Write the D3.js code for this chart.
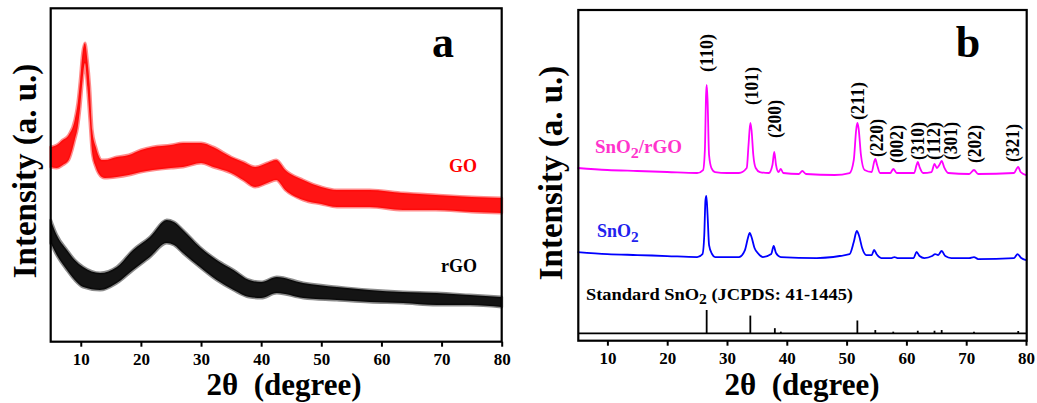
<!DOCTYPE html>
<html><head><meta charset="utf-8">
<script src="https://cdn.jsdelivr.net/npm/d3@7"></script>
<style>
html,body{margin:0;padding:0;background:#fff;}
svg text{font-family:"Liberation Serif","Times New Roman",serif;font-weight:bold;}
</style></head>
<body><svg id="chart" width="1037" height="403"></svg>
<script>
// ---------------- DATA ----------------
const xTicks = [10, 20, 30, 40, 50, 60, 70, 80];

// Panel a: GO (noisy band, upper/lower envelope of the trace, a.u.)
const goTheta = [5,6,7,8,9,9.5,9.9,10.3,10.7,11.1,11.5,11.9,12.5,13.5,14,16,18,20,22,25,27,30,32,35,37,39,41,42.5,44,47,50,52.6,58,63.6,69,75,80];
const goUpper = [584,590,605,620,665,716,785,866,896,845,764,635,584,545,545,554,560,575,584,590,596,596,584,554,539,524,536,545,515,485,464,455,455,446,440,434,431];
const goLower = [524,521,530,545,605,644,704,785,836,764,665,566,524,494,491,494,500,509,515,521,524,536,524,506,485,464,476,485,455,425,413,404,404,395,395,389,386];

// Panel a: rGO
const rgoTheta = [5,6,7.7,9,10.4,13.2,16,18.7,21.5,24.3,25.5,27,29.8,32.6,35.4,38,40,42.6,47,52.6,58,63.6,69.2,74.7,80];
const rgoUpper = [365,320,275,245,224,206,224,275,314,365,359,335,284,245,215,185,179,194,176,164,155,149,146,140,134];
const rgoLower = [296,260,215,185,164,155,176,215,254,296,290,266,224,185,155,134,131,146,131,125,119,116,110,110,104];

// Panel b: SnO2/rGO
const snrTheta = [5,10,15,20,25,26.0,26.3,26.5,26.6,26.75,27.0,27.4,28,30,32,33.3,33.6,33.9,34.1,34.4,34.8,35.5,37.0,37.6,37.9,38.2,38.6,39.0,39.4,42.0,42.6,43.2,48,50.5,51.2,51.6,51.8,52.0,52.4,53,54.2,54.6,54.8,55.1,55.6,57.3,57.8,58.4,61.3,61.7,61.9,62.2,62.8,64.2,64.7,65.1,65.5,65.9,66.3,67,70.5,71.3,72,78,78.5,78.7,79.1,80];
const snrI = [518,512,509,506,503,512,572,737,767,722,557,518,506,503,503,518,587,653,632,557,518,506,503,527,566,527,506,515,503,500,509,500,497,503,542,632,653,638,557,512,506,536,545,527,503,503,515,503,503,527,536,521,503,506,530,518,527,539,521,503,500,512,500,503,518,521,506,497];

// Panel b: SnO2
const snTheta = [5,10,15,20,25,25.9,26.2,26.4,26.55,26.75,27.0,27.5,28,32,33.0,33.5,33.8,34.1,34.6,35.3,36,37.4,37.8,38.2,39,45,50.5,51.2,51.7,52.1,52.6,53.3,54.2,54.6,55.0,55.8,57.5,58.0,58.5,61.2,61.7,62.2,63,64.3,64.8,65.3,65.9,66.5,67.5,70.5,71.3,72,78,78.6,79.2,80];
const snI = [266,260,257,254,251,260,317,422,434,377,287,260,251,251,272,308,323,311,278,260,251,260,284,263,251,248,260,296,329,314,278,257,257,272,260,248,248,251,248,248,266,254,248,254,260,257,269,254,248,248,251,245,248,260,248,242];

// Panel b: standard SnO2 (JCPDS 41-1445) stick pattern, relative intensity
const stdTheta = [26.6,33.9,38.0,39.0,51.8,54.8,57.8,61.9,64.7,65.9,71.3,78.7];
const stdI = [100,76,22,7,55,14,7,11,11,14,7,10];

// Panel b: Miller index annotations (label 2θ, label base level in a.u.)
const hklText = ["(110)","(101)","(200)","(211)","(220)","(002)","(310)","(112)","(301)","(202)","(321)"];
const hklTheta = [26.6,34.13,38.03,51.9,55.03,58.38,61.94,64.62,67.41,71.47,77.83];
const hklLevel = [806,707,608,662,551,533,542,542,542,533,536];

// ---------------- DRAW ----------------
const svg = d3.select("#chart");

function panel(cfg){
  const g = svg.append("g");
  const x = d3.scaleLinear().domain([5,80]).range([cfg.left, cfg.right]);
  const y = d3.scaleLinear().domain([0,cfg.ymax]).range([cfg.bottom, cfg.top]);
  const axis = d3.axisBottom(x).tickValues(xTicks).tickSize(5).tickSizeOuter(0).tickFormat(d3.format("d"));
  const ax = g.append("g").attr("transform",`translate(0,${cfg.bottom})`).call(axis);
  ax.select(".domain").remove();
  ax.selectAll(".tick line").attr("stroke","#000").attr("stroke-width",2);
  ax.selectAll(".tick text").attr("font-size",17).attr("fill","#000").attr("y",11)
    .attr("font-family","Liberation Serif").attr("font-weight","bold");
  // x title
  g.append("text").attr("x",cfg.xTitleX).attr("y",395).attr("text-anchor","middle")
    .attr("font-size",31).attr("fill","#000").text("2θ\u00A0 (degree)");
  // y title
  g.append("text").attr("transform",`translate(${cfg.yTitleX},${cfg.yTitleY}) rotate(-90)`)
    .attr("text-anchor","middle").attr("font-size",33).attr("fill","#000").text("Intensity (a. u.)");
  // panel letter
  g.append("text").attr("x",cfg.letterX).attr("y",57).attr("text-anchor","middle")
    .attr("font-size",44).attr("fill","#000").text(cfg.letter);
  return {g,x,y};
}

// ---- Panel a ----
const A = panel({left:50.7,right:501.7,top:8.3,bottom:341.7,ymax:1000,xTitleX:284,yTitleX:36,yTitleY:171,letterX:443,letter:"a"});
function band(P, th, up, lo, color){
  const pts = th.map((t,i)=>({t,u:up[i],l:lo[i]}));
  const area = d3.area().x(d=>P.x(d.t)).y0(d=>P.y(d.l)).y1(d=>P.y(d.u)).curve(d3.curveMonotoneX);
  P.g.append("path").datum(pts).attr("d",area).attr("fill",color).attr("fill-opacity",0.92)
    .attr("stroke",color).attr("stroke-opacity",0.45).attr("stroke-width",3).attr("stroke-linejoin","round");
}
band(A, goTheta, goUpper, goLower, "#ff0000");
band(A, rgoTheta, rgoUpper, rgoLower, "#000000");
A.g.append("text").attr("x",463).attr("y",172).attr("text-anchor","middle").attr("font-size",18).attr("fill","#ff0000").text("GO");
A.g.append("text").attr("x",459).attr("y",272).attr("text-anchor","middle").attr("font-size",18).attr("fill","#000").text("rGO");
A.g.append("rect").attr("x",50.7).attr("y",8.3).attr("width",451).attr("height",333.4)
  .attr("fill","none").attr("stroke","#000").attr("stroke-width",2.2);

// ---- Panel b ----
const B = panel({left:577.5,right:1026.0,top:10,bottom:340.7,ymax:992,xTitleX:802,yTitleX:562,yTitleY:173,letterX:968,letter:"b"});
function trace(P, th, vals, color){
  const pts = th.map((t,i)=>({t,v:vals[i]}));
  const line = d3.line().x(d=>P.x(d.t)).y(d=>P.y(d.v)).curve(d3.curveMonotoneX);
  P.g.append("path").datum(pts).attr("d",line).attr("fill","none").attr("stroke",color).attr("stroke-width",1.8);
}
trace(B, snrTheta, snrI, "#ff00ff");
trace(B, snTheta, snI, "#0000ff");

// stick pattern
const stickY = d3.scaleLinear().domain([0,100]).range([B.y(22.2), B.y(92.1)]);
B.g.append("line").attr("x1",578.3).attr("x2",1026.7).attr("y1",stickY(0)).attr("y2",stickY(0)).attr("stroke","#000").attr("stroke-width",1.8);
B.g.selectAll("line.stick").data(stdTheta.map((t,i)=>({t,v:stdI[i]}))).join("line").attr("class","stick")
  .attr("x1",d=>B.x(d.t)).attr("x2",d=>B.x(d.t)).attr("y1",stickY(0)).attr("y2",d=>stickY(d.v))
  .attr("stroke","#000").attr("stroke-width",1.8);

// hkl labels
hklText.forEach((s,i)=>{
  const px = B.x(hklTheta[i]), py = B.y(hklLevel[i]);
  B.g.append("text").attr("transform",`translate(${px},${py}) rotate(-90)`).attr("dy","0.35em")
    .attr("text-anchor","start").attr("font-size",18).attr("fill","#000")
    .attr("textLength",38).attr("lengthAdjust","spacingAndGlyphs").text(s);
});

// series labels
function subLabel(P, xx, yy, parts, color, size, len){
  const t = P.g.append("text").attr("x",xx).attr("y",yy).attr("font-size",size).attr("fill",color);
  parts.forEach(p=>{
    const ts = t.append("tspan").text(p.s);
    if(p.sub){ ts.attr("font-size",size*0.85).attr("dy",size*0.28); }
    else if(p.after){ ts.attr("dy",-size*0.28); }
  });
  if(len){ t.attr("textLength",len).attr("lengthAdjust","spacingAndGlyphs"); }
}
subLabel(B, 595, 153, [{s:"SnO"},{s:"2",sub:true},{s:"/rGO",after:true}], "#ff33cc", 18, 87);
subLabel(B, 597, 237, [{s:"SnO"},{s:"2",sub:true}], "#2222ee", 18);
subLabel(B, 586, 300, [{s:"Standard SnO"},{s:"2",sub:true},{s:" (JCPDS: 41-1445)",after:true}], "#000", 16, 267);

B.g.append("rect").attr("x",578.3).attr("y",10).attr("width",448.4).attr("height",330.7)
  .attr("fill","none").attr("stroke","#000").attr("stroke-width",2.2);
</script></body></html>
